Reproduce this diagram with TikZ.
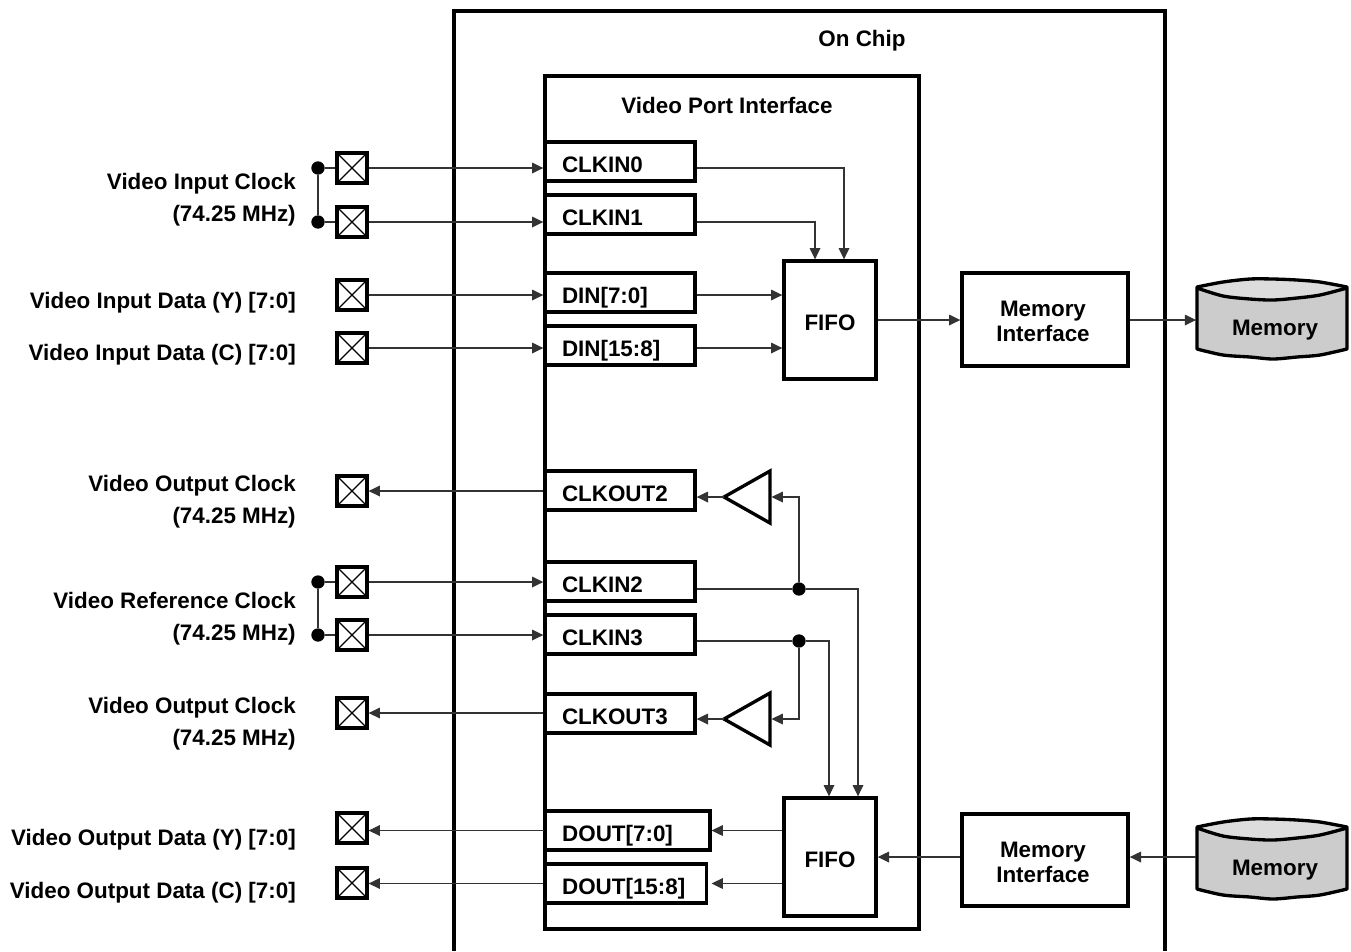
\documentclass[tikz,border=0pt]{standalone}
\usepackage{fontspec}
\setmainfont{Liberation Sans}
\usetikzlibrary{arrows.meta}
\definecolor{linegray}{HTML}{333333}
\definecolor{memside}{HTML}{CCCCCC}
\definecolor{memtop}{HTML}{DDDDDD}
\tikzset{
  frame/.style={draw=black,line width=2.5pt,line join=miter},
  lbl/.style={font=\fontsize{16.8pt}{18.75pt}\selectfont\bfseries},
  portbox/.style={frame,lbl,minimum height=29.25pt,inner xsep=12.75pt,inner ysep=0pt,text height=18pt,text depth=0.8pt,align=left,anchor=center},
  blockbox/.style={frame,lbl,align=center,inner sep=0pt,fill=white},
  fifobox/.style={blockbox,minimum width=69pt,minimum height=88.5pt,text height=16pt,text depth=0pt},
  pad/.style={frame,line width=2.9pt,fill=white,minimum size=22pt,inner sep=0pt,
    path picture={\draw[line width=1pt] (path picture bounding box.north west)--(path picture bounding box.south east)
      (path picture bounding box.north east)--(path picture bounding box.south west);}},
  dot/.style={circle,fill=black,inner sep=0pt,minimum size=10pt},
  sig/.style={draw=linegray,line width=0.9pt},
  arr/.style={sig,-{Triangle[length=8.5pt,width=8pt,color=linegray]}},
  side/.style={lbl,anchor=base east,inner sep=0pt},
  title/.style={lbl,inner sep=0pt},
  memlabel/.style={lbl,minimum width=118pt,minimum height=58pt,inner sep=0pt},
}
\newcommand{\memshape}{%
  \fill[memside] (1197,287) -- (1197,349) -- plot[smooth] coordinates {(1197,349)(1223,355)(1250,357)(1273,359)(1297,357)(1320,355)(1347,349)} -- (1347,287) -- cycle;
  \fill[memtop] plot[smooth] coordinates {(1197,287)(1223,282)(1250,279)(1273,279)(1297,280)(1320,282)(1347,287)} -- plot[smooth] coordinates {(1347,289)(1320,295)(1297,298)(1273,300)(1250,299)(1223,296)(1197,290)} -- cycle;
  \draw[line width=2.5pt,line join=round] plot[smooth] coordinates {(1197,287)(1223,282)(1250,279)(1273,279)(1297,280)(1320,282)(1347,287)}
    -- plot[smooth] coordinates {(1347,349)(1320,355)(1297,357)(1273,359)(1250,357)(1223,355)(1197,349)} -- cycle;
  \draw[line width=2.5pt] plot[smooth] coordinates {(1197,288)(1223,296)(1250,299)(1273,300)(1297,298)(1320,295)(1347,288)};
}
\begin{document}
\begin{tikzpicture}[x=0.75pt,y=-0.75pt]
\useasboundingbox (0,0) rectangle (1351,951);
% outer and inner frames
\draw[frame] (454,951) -- (454,11) -- (1165,11) -- (1165,951);
\draw[frame] (545,76) rectangle (919,929);
\node[title] (chip) at (862,41) {On Chip};
\node[title] (vpi) at (727,105) {Video Port Interface};
% ports
\node[portbox,text width=87pt,minimum width=112.5pt] (ck0) at (620,161.5) {CLKIN0};
\node[portbox,text width=87pt,minimum width=112.5pt] (ck1) at (620,214.5) {CLKIN1};
\node[portbox,text width=87pt,minimum width=112.5pt] (d0) at (620,292.5) {DIN[7:0]};
\node[portbox,text width=87pt,minimum width=112.5pt] (d1) at (620,345.5) {DIN[15:8]};
\node[portbox,text width=87pt,minimum width=112.5pt] (co2) at (620,490.5) {CLKOUT2};
\node[portbox,text width=87pt,minimum width=112.5pt] (ck2) at (620,581.5) {CLKIN2};
\node[portbox,text width=87pt,minimum width=112.5pt] (ck3) at (620,634.5) {CLKIN3};
\node[portbox,text width=87pt,minimum width=112.5pt] (co3) at (620,713.5) {CLKOUT3};
\node[portbox,text width=98pt,minimum width=123.5pt] (q0) at (627.5,830.5) {DOUT[7:0]};
\node[portbox,text width=95.5pt,minimum width=121pt] (q1) at (625.75,883.5) {DOUT[15:8]};
% blocks
\node[fifobox] (fifoa) at (830,320) {FIFO};
\node[fifobox] (fifob) at (830,857) {FIFO};
\node[blockbox,minimum width=124.5pt,minimum height=69.75pt] (mia) at (1045,319.5) {\rule{0pt}{15pt}Memory\hspace*{3pt}\\Interface\hspace*{3pt}};
\node[blockbox,minimum width=124.5pt,minimum height=69pt] (mib) at (1045,860) {\rule{0pt}{15pt}Memory\hspace*{3pt}\\Interface\hspace*{3pt}};
% memories
\memshape
\begin{scope}[shift={(0,540)}]\memshape\end{scope}
\node[memlabel] (mema) at (1275,330) {Memory};
\node[memlabel] (memb) at (1275,870) {Memory};
% pads
\node[pad] (pin0) at (352,168) {};
\node[pad] (pin1) at (352,222) {};
\node[pad] (pdy) at (352,295) {};
\node[pad] (pdc) at (352,348) {};
\node[pad] (poc2) at (352,491) {};
\node[pad] (pin2) at (352,582) {};
\node[pad] (pin3) at (352,635) {};
\node[pad] (poc3) at (352,713) {};
\node[pad] (pqy) at (352,828) {};
\node[pad] (pqc) at (352,883) {};
% buffers
\coordinate (b2t) at (770,471);
\coordinate (b2b) at (770,523);
\coordinate (b2a) at (724,497);
\coordinate (b3t) at (770,693);
\coordinate (b3b) at (770,745);
\coordinate (b3a) at (724,719);
\draw[frame] (b2a) -- (b2t) -- (b2b) -- cycle;
\draw[frame] (b3a) -- (b3t) -- (b3b) -- cycle;
\coordinate (b2i) at (771.5,497);
\coordinate (b3i) at (771.5,719);
% junctions
\node[dot] (ja) at (318,168) {};
\node[dot] (jb) at (318,222) {};
\node[dot] (jc) at (318,582) {};
\node[dot] (jd) at (318,635) {};
\node[dot] (je) at (799,589) {};
\node[dot] (jf) at (799,641) {};
% left connectors
\draw[sig] (ja) -- (jb);
\draw[sig] (jc) -- (jd);
\draw[sig] (ja) -- (pin0);
\draw[sig] (jb) -- (pin1);
\draw[sig] (jc) -- (pin2);
\draw[sig] (jd) -- (pin3);
\draw[arr] (pin0.east) -- (pin0.east -| ck0.west);
\draw[arr] (pin1.east) -- (pin1.east -| ck1.west);
\draw[arr] (pdy.east) -- (pdy.east -| d0.west);
\draw[arr] (pdc.east) -- (pdc.east -| d1.west);
\draw[arr] (poc2.east -| co2.west) -- (poc2.east);
\draw[arr] (pin2.east) -- (pin2.east -| ck2.west);
\draw[arr] (pin3.east) -- (pin3.east -| ck3.west);
\draw[arr] (poc3.east -| co3.west) -- (poc3.east);
\draw[arr] (q0.west) -- (q0.west -| pqy.east);
\draw[arr] (q1.west) -- (q1.west -| pqc.east);
% into FIFO A
\draw[arr] (ck0.east |- pin0) -| (fifoa.north -| 844,0);
\draw[arr] (ck1.east |- pin1) -| (fifoa.north -| 815,0);
\draw[arr] (d0.east |- pdy) -- (fifoa.west |- pdy);
\draw[arr] (d1.east |- pdc) -- (fifoa.west |- pdc);
\draw[arr] (fifoa.east) -- (fifoa.east -| mia.west);
\draw[arr] (mia.east |- fifoa.east) -- (fifoa.east -| mema.west);
% clock distribution
\draw[arr] (b2a) -- (b2a -| co2.east);
\draw[arr] (b3a) -- (b3a -| co3.east);
\draw[arr] (je) |- (b2i);
\draw[arr] (jf) |- (b3i);
\draw[sig] (ck2.east |- je) -- (je);
\draw[sig] (ck3.east |- jf) -- (jf);
\draw[arr] (je) -| (fifob.north -| 858,0);
\draw[arr] (jf) -| (fifob.north -| 829,0);
% out of FIFO B
\draw[arr] (fifob.west |- q0) -- (q0.east);
\draw[arr] (fifob.west |- q1) -- (q0.east |- q1);
\draw[arr] (mib.west |- fifob.east) -- (fifob.east);
\draw[arr] (memb.west |- fifob.east) -- (mib.east |- fifob.east);
% side labels
\node[side] (t1) at (296,189) {Video Input Clock};
\node[side] (t2) at (296,221) {(74.25 MHz)};
\node[side] (t3) at (296,308) {Video Input Data (Y) [7:0]};
\node[side] (t4) at (296,360) {Video Input Data (C) [7:0]};
\node[side] (t5) at (296,491) {Video Output Clock};
\node[side] (t6) at (296,523) {(74.25 MHz)};
\node[side] (t7) at (296,608) {Video Reference Clock};
\node[side] (t8) at (296,640) {(74.25 MHz)};
\node[side] (t9) at (296,713) {Video Output Clock};
\node[side] (t10) at (296,745) {(74.25 MHz)};
\node[side] (t11) at (296,845) {Video Output Data (Y) [7:0]};
\node[side] (t12) at (296,898) {Video Output Data (C) [7:0]};
\end{tikzpicture}
\end{document}
